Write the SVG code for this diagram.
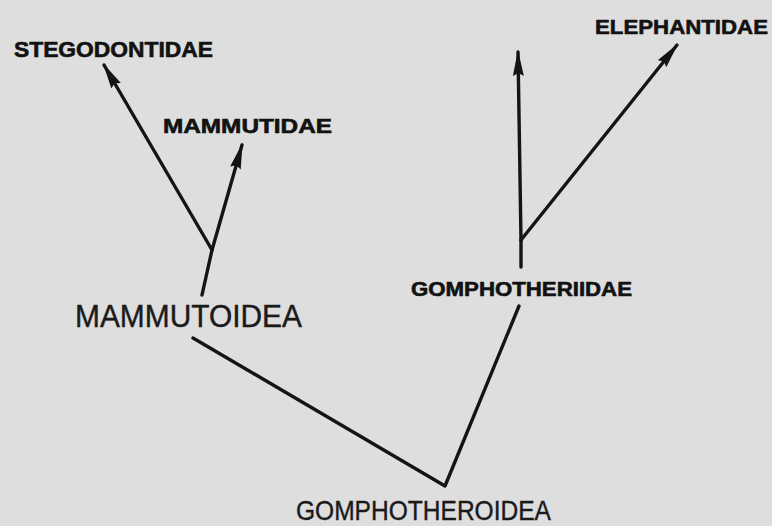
<svg xmlns="http://www.w3.org/2000/svg" width="772" height="526" viewBox="0 0 772 526">
<style>
.b{font-family:"Liberation Sans",Arial,sans-serif;font-weight:bold;fill:#121212;stroke:#121212;stroke-width:0.6}
.r{font-family:"Liberation Sans",Arial,sans-serif;fill:#1a1a1a;stroke:#1a1a1a;stroke-width:0.4}
.e{stroke:#141414;stroke-width:3.4;fill:none;stroke-linecap:round;stroke-linejoin:round}
</style>
<defs>
<marker id="ah" viewBox="0 0 26 11" refX="24" refY="5.5" markerWidth="26" markerHeight="11" markerUnits="userSpaceOnUse" orient="auto">
<path d="M0,0 L26,5.5 L0,11 L3,5.5 Z" fill="#141414"/>
</marker>
</defs>
<rect width="772" height="526" fill="#dedede"/>
<g id="connectors">
<path class="e" d="M202,295 L212,250"/>
<path class="e" d="M212,250 L104,65" marker-end="url(#ah)"/>
<path class="e" d="M212,250 L242,145" marker-end="url(#ah)"/>
<path class="e" d="M193,338 L445,486 L519,306"/>
<path class="e" d="M521,267 L521,240"/>
<path class="e" d="M521,240 L518,52" marker-end="url(#ah)"/>
<path class="e" d="M521,240 L677,45" marker-end="url(#ah)"/>
</g>
<g id="stegodontidae"><text class="b" x="14" y="57" font-size="22" textLength="199" lengthAdjust="spacingAndGlyphs">STEGODONTIDAE</text></g>
<g id="mammutidae"><text class="b" x="163" y="133" font-size="20" textLength="169" lengthAdjust="spacingAndGlyphs">MAMMUTIDAE</text></g>
<g id="mammutoidea"><text class="r" x="75" y="327" font-size="32" textLength="227" lengthAdjust="spacingAndGlyphs">MAMMUTOIDEA</text></g>
<g id="gomphotheriidae"><text class="b" x="411" y="296" font-size="20" textLength="221" lengthAdjust="spacingAndGlyphs">GOMPHOTHERIIDAE</text></g>
<g id="elephantidae"><text class="b" x="595" y="34" font-size="21" textLength="173" lengthAdjust="spacingAndGlyphs">ELEPHANTIDAE</text></g>
<g id="gomphotheroidea"><text class="r" x="296" y="520" font-size="28" textLength="255" lengthAdjust="spacingAndGlyphs">GOMPHOTHEROIDEA</text></g>
</svg>
